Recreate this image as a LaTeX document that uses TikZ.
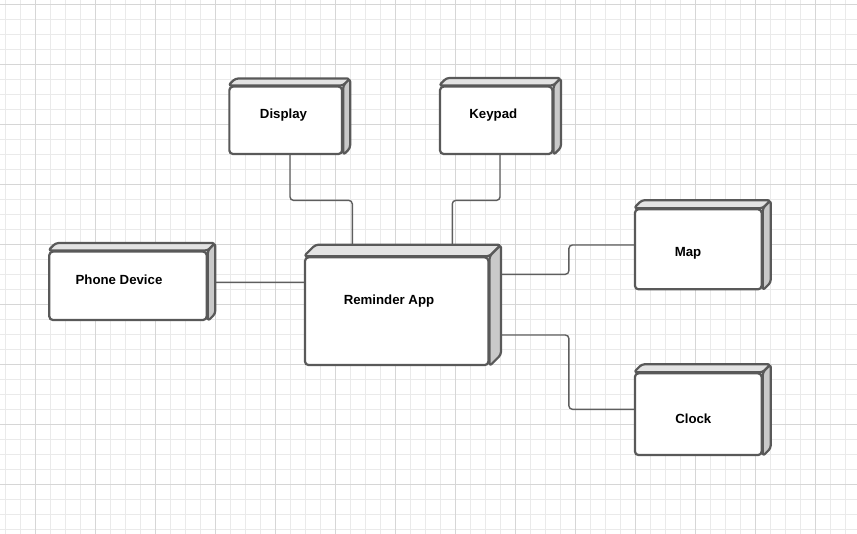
\documentclass[tikz,border=0pt]{standalone}
\usepackage{fontspec}
\setmainfont{Liberation Sans}
\usetikzlibrary{positioning}
\definecolor{edgegray}{HTML}{595959}
\definecolor{wiregray}{HTML}{5E5E5E}
\definecolor{topgray}{HTML}{E3E3E3}
\definecolor{sidegray}{HTML}{C9C9C9}
\definecolor{gridminor}{HTML}{EAEAEA}
\definecolor{gridmajor}{HTML}{D6D6D6}

\begin{document}
\begin{tikzpicture}[
            x=0.03cm, y=-0.03cm,
            front/.style={rectangle, draw=edgegray, line width=1.9pt, fill=white, rounded corners=3pt, inner sep=0pt},
            face/.style={draw=edgegray, line width=1.9pt, rounded corners=2.5pt, line join=round},
            wire/.style={draw=wiregray, line width=1.2pt, rounded corners=3pt},
            lbl/.style={font=\fontsize{11.3}{13}\selectfont\bfseries, inner sep=0pt}
        ]
        \useasboundingbox[fill=white] (0,0) rectangle (857,534);
        % grid paper
        \foreach \gx in {5.7,20.7,...,857} \draw[gridminor, line width=0.6pt] (\gx,0) -- (\gx,534);
        \foreach \gy in {4.5,19.5,...,534} \draw[gridminor, line width=0.6pt] (0,\gy) -- (857,\gy);
        \foreach \gx in {35.7,95.7,...,857} \draw[gridmajor, line width=0.7pt] (\gx,0) -- (\gx,534);
        \foreach \gy in {4.3,64.3,...,534} \draw[gridmajor, line width=0.7pt] (0,\gy) -- (857,\gy);
        % front faces
        \node[front, minimum width=3.38cm, minimum height=2.02cm] (disp) at (285.7,120.3) {};
        \node[front, minimum width=3.37cm, minimum height=2.02cm] (keys) at (496.2,120.3) {};
        \node[front, minimum width=4.72cm, minimum height=2.05cm] (phone) at (128,285.8) {};
        \node[front, minimum width=5.5cm, minimum height=3.23cm] (app) at (396.7,311.2) {};
        \node[front, minimum width=3.8cm, minimum height=2.4cm] (map) at (698.3,249.3) {};
        \node[front, minimum width=3.8cm, minimum height=2.45cm] (clock) at (698.3,414.2) {};
        % links
        \draw[wire] ([shift={(4.3,0)}]disp.south) -- ++(0,45.3) -| ([shift={(-44.4,0)}]app.north);
        \draw[wire] ([shift={(3.8,0)}]keys.south) -- ++(0,45.3) -| ([shift={(55.6,0)}]app.north);
        \draw[wire] ([shift={(0,-3.5)}]phone.east) -- ([shift={(0,-28.9)}]app.west);
        \draw[wire] ([shift={(0,-36.9)}]app.east) -- ++(79.4,0) |- ([shift={(0,-4.3)}]map.west);
        \draw[wire] ([shift={(0,23.8)}]app.east) -- ++(79.4,0) |- ([shift={(0,-4.9)}]clock.west);
        % top and side faces
        \foreach \nm/\dp in {disp/7, keys/7.5, phone/7.5, app/11.5, map/8, clock/8} {
            \draw[face, fill=topgray] (\nm.north west) -- ++(\dp,-\dp) -- ([shift={(\dp,-\dp)}]\nm.north east) -- (\nm.north east) -- cycle;
            \draw[face, fill=sidegray] (\nm.north east) -- ([shift={(\dp,-\dp)}]\nm.north east) -- ([shift={(\dp,-\dp)}]\nm.south east) -- (\nm.south east) -- cycle;
        }
        % labels
        \node[lbl] (dispText) at (283.5,115.5) {Display};
        \node[lbl] (keysText) at (493.3,115) {Keypad};
        \node[lbl] (phoneText) at (119,280) {Phone Device};
        \node[lbl] (appText) at (389,301) {Reminder App};
        \node[lbl] (mapText) at (688,253) {Map};
        \node[lbl] (clockText) at (693.3,418.3) {Clock};
\end{tikzpicture}
\end{document}
